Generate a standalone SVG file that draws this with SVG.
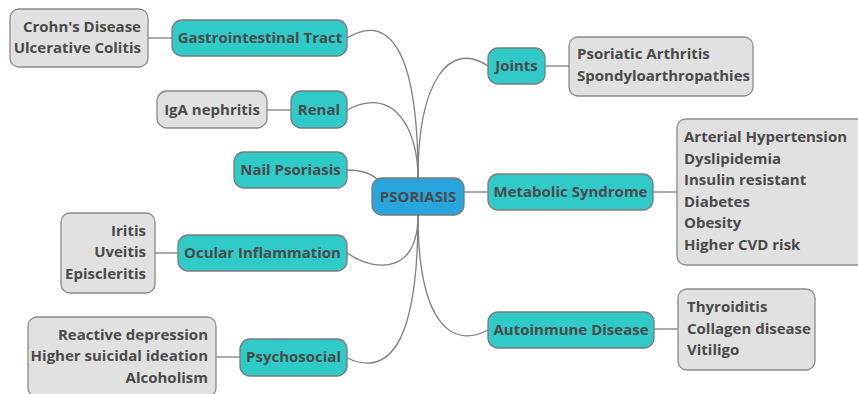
<svg xmlns="http://www.w3.org/2000/svg" width="858" height="394" viewBox="0 0 858 394">
<style>
text{font-family:"Open Sans","Noto Sans","DejaVu Sans",sans-serif;font-weight:bold;font-size:15px;fill:#4a4a4a}
.topic{fill:#30cbc9;stroke:#7a7a7a;stroke-width:1.3}
.root{fill:#27a5dc;stroke:#7a7a7a;stroke-width:1.3}
.detail{fill:#e1e1e1;stroke:#8a8a8a;stroke-width:1.3}
.c{fill:none;stroke:#7f7f7f;stroke-width:1.3}
.m{text-anchor:middle}
.e{text-anchor:end}
</style>
<rect width="858" height="394" fill="#ffffff"/>
<g id="connectors">
<path class="c" d="M347,38 C385,15 418,40 418,178"/>
<path class="c" d="M347,110 C395,85 418,130 418,178"/>
<path class="c" d="M347,170 C360,170 370,172 378,180"/>
<path class="c" d="M347,253 C380,275 418,270 418,215"/>
<path class="c" d="M347,358 C395,380 418,330 418,215"/>
<path class="c" d="M488,66 C450,40 418,80 418,178"/>
<path class="c" d="M464,192 L488,192"/>
<path class="c" d="M488,330 C450,350 418,320 418,215"/>
<path class="c" d="M148,38 L172,38"/>
<path class="c" d="M267,110 L291,110"/>
<path class="c" d="M155,253 L178,253"/>
<path class="c" d="M216,357 L240,357"/>
<path class="c" d="M545,66 L569,66"/>
<path class="c" d="M653,192 L677,192"/>
<path class="c" d="M654,329 L678,329"/>
</g>
<g id="root">
<rect class="root" x="372" y="178" width="92" height="37" rx="10"/>
<text class="m" x="418" y="202">PSORIASIS</text>
</g>
<g id="gi">
<rect class="topic" x="172" y="20" width="175" height="36" rx="10"/>
<text class="m" x="260" y="43">Gastrointestinal Tract</text>
</g>
<g id="gi-detail">
<rect class="detail" x="10" y="9" width="138" height="58" rx="9"/>
<text class="e" x="141" y="32">Crohn's Disease</text>
<text class="e" x="141" y="53">Ulcerative Colitis</text>
</g>
<g id="renal">
<rect class="topic" x="291" y="91" width="56" height="37" rx="10"/>
<text class="m" x="319" y="115">Renal</text>
</g>
<g id="renal-detail">
<rect class="detail" x="157" y="91" width="110" height="37" rx="10"/>
<text class="m" x="212" y="115">IgA nephritis</text>
</g>
<g id="nail">
<rect class="topic" x="234" y="152" width="113" height="36" rx="10"/>
<text class="m" x="290.5" y="175">Nail Psoriasis</text>
</g>
<g id="ocular">
<rect class="topic" x="178" y="235" width="169" height="36" rx="10"/>
<text class="m" x="262.5" y="258">Ocular Inflammation</text>
</g>
<g id="ocular-detail">
<rect class="detail" x="61" y="213" width="94" height="80" rx="9"/>
<text class="e" x="146" y="236">Iritis</text>
<text class="e" x="146" y="257">Uveitis</text>
<text class="e" x="146" y="279">Episcleritis</text>
</g>
<g id="psycho">
<rect class="topic" x="240" y="339" width="107" height="37" rx="10"/>
<text class="m" x="293.5" y="362">Psychosocial</text>
</g>
<g id="psycho-detail">
<rect class="detail" x="28" y="317" width="188" height="80" rx="9"/>
<text class="e" x="208" y="340">Reactive depression</text>
<text class="e" x="208" y="361">Higher suicidal ideation</text>
<text class="e" x="208" y="383">Alcoholism</text>
</g>
<g id="joints">
<rect class="topic" x="488" y="48" width="57" height="36" rx="10"/>
<text class="m" x="516.5" y="71">Joints</text>
</g>
<g id="joints-detail">
<rect class="detail" x="569" y="37" width="184" height="59" rx="9"/>
<text x="577" y="59">Psoriatic Arthritis</text>
<text x="577" y="81">Spondyloarthropathies</text>
</g>
<g id="metabolic">
<rect class="topic" x="488" y="174" width="165" height="36" rx="10"/>
<text class="m" x="570.5" y="197">Metabolic Syndrome</text>
</g>
<g id="metabolic-detail">
<rect class="detail" x="677" y="119" width="200" height="146" rx="9"/>
<text x="684" y="142">Arterial Hypertension</text>
<text x="684" y="163.5">Dyslipidemia</text>
<text x="684" y="185">Insulin resistant</text>
<text x="684" y="206.5">Diabetes</text>
<text x="684" y="228">Obesity</text>
<text x="684" y="249.5">Higher CVD risk</text>
</g>
<g id="autoimmune">
<rect class="topic" x="488" y="312" width="166" height="36" rx="10"/>
<text class="m" x="571" y="335">Autoinmune Disease</text>
</g>
<g id="autoimmune-detail">
<rect class="detail" x="678" y="289" width="137" height="81" rx="9"/>
<text x="687" y="312">Thyroiditis</text>
<text x="687" y="334">Collagen disease</text>
<text x="687" y="355">Vitiligo</text>
</g>
</svg>
